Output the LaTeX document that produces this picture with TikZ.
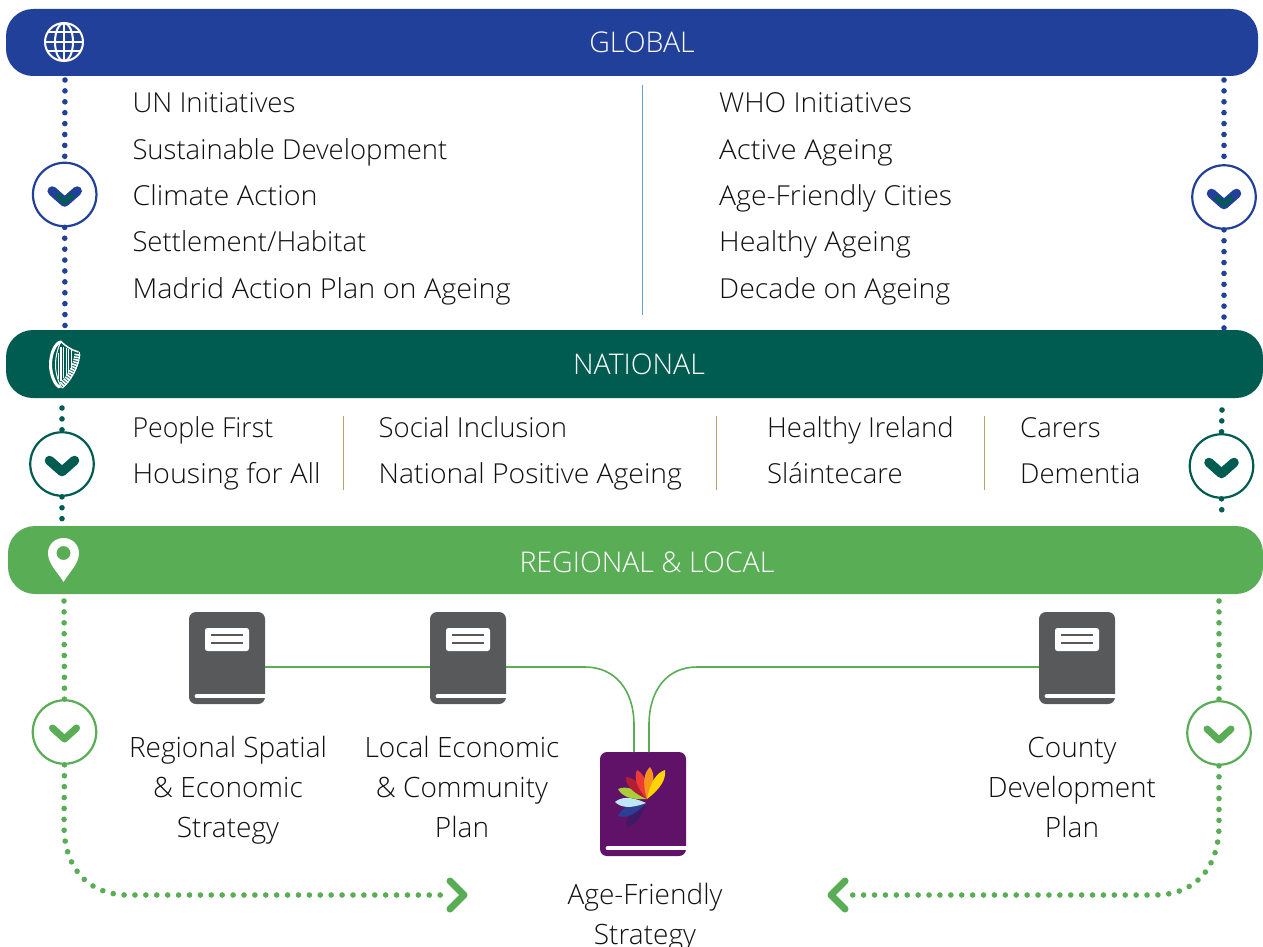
\documentclass[tikz,border=0pt]{standalone}
\usepackage{fontspec}
\setmainfont{Open Sans}[UprightFont=* Light]
\usetikzlibrary{calc}
\definecolor{gblue}{HTML}{21409A}
\definecolor{nteal}{HTML}{005B50}
\definecolor{rgreen}{HTML}{58AD55}
\definecolor{bookgrey}{HTML}{58595B}
\definecolor{bookpurple}{HTML}{5F1267}
\definecolor{sepblue}{HTML}{5BA4D6}
\definecolor{septan}{HTML}{B5A468}
\definecolor{txt}{HTML}{111111}
\tikzset{
  x=1pt,y=-1pt,
  bar/.style={fill=#1,rounded corners=27pt,inner sep=0pt},
  barlabel/.style={text=white,inner sep=0pt,font=\fontsize{28.5}{32}\selectfont},
  item/.style={anchor=base west,inner sep=0pt,text=txt,font=\fontsize{27.5}{32}\selectfont},
  caption/.style={align=center,inner sep=0pt,text=txt,font=\fontsize{28}{40}\selectfont},
  dots/.style={draw=#1,line width=5.6pt,line cap=round,dash pattern=on 0pt off 10.9pt},
  ring/.style={circle,draw=#1,line width=2.2pt,fill=white,minimum size=63.5pt,inner sep=0pt},
  chev/.style={draw=#1,line width=9.5pt,line cap=round,line join=round},
  sep/.style={draw=#1,line width=1pt},
  bookbody/.style={fill=bookgrey,rounded corners=7pt,inner sep=0pt,minimum width=76pt,minimum height=92pt},
  link/.style={draw=rgreen,line width=1.6pt},
}
\newcommand{\chevron}[2]{\draw[chev=#2] ([shift={(-12.5,-3.5)}]#1.center) -- ([shift={(0,7.5)}]#1.center) -- ([shift={(12.5,-3.5)}]#1.center);}
\newcommand{\bookslot}[1]{\draw[white,line width=4.4pt,line cap=round] ([shift={(8,-8)}]#1.south west) -- ([shift={(3,-8)}]#1.south east);}
\newcommand{\petal}[3]{\fill[#3] (#1) .. controls ($(#1)!0.5!(#2)!6.5pt!90:(#2)$) and ($(#1)!0.8!(#2)!5.5pt!90:(#2)$) .. (#2) .. controls ($(#1)!0.8!(#2)!5.5pt!-90:(#2)$) and ($(#1)!0.5!(#2)!6.5pt!-90:(#2)$) .. (#1) -- cycle;}
\newcommand{\wider}[2]{\scalebox{#1}[1]{#2}}
\begin{document}
\begin{tikzpicture}
\useasboundingbox (0,0) rectangle (1263,947);
% dotted stubs that run up to the bars lie under them
\coordinate (n1) at (65,328); \coordinate (n2) at (1224,328);
% bars
\node[bar=gblue,minimum width=1252pt,minimum height=67pt] (global) at (632,42.5) {};
\node[barlabel] (globallabel) at (642,42) {GLOBAL};
\node[bar=nteal,minimum width=1257pt,minimum height=68pt] (national) at (634.5,364) {};
\node[barlabel] (nationallabel) at (639,364) {NATIONAL};
\node[bar=rgreen,minimum width=1255pt,minimum height=68pt] (regional) at (635.5,560) {};
\node[barlabel] (regionallabel) at (647,562) {REGIONAL \& LOCAL};
% global icon
\begin{scope}[shift={(64,42)},draw=white,line width=2pt]
\draw (0,0) circle (19);
\draw (0,0) ellipse (9 and 19);
\draw (0,-19) -- (0,19);
\draw (-19,0) -- (19,0);
\draw (-16,-9.5) -- (16,-9.5);
\draw (-16,9.5) -- (16,9.5);
\end{scope}
% harp icon
\begin{scope}[shift={(64.5,365)},draw=white]
\draw[line width=3pt,line cap=round] (-5,22) .. controls (-10,20) and (-14,8) .. (-14,0) .. controls (-14,-12) and (-9,-22) .. (-4,-23);
\draw[line width=1pt] (-2,23) .. controls (-6,19) and (-9,8) .. (-9,0) .. controls (-9,-10) and (-6,-18) .. (-4,-23);
\draw[line width=1.5pt] (-4,-24) .. controls (2,-18) and (7,-15) .. (14,-13);
\draw[line width=6pt,dash pattern=on 1.6pt off 1pt] (13,-11) .. controls (12,0) and (5,14) .. (-3,20);
\draw[line width=1pt] (15,-13) .. controls (16,-3) and (8,14) .. (-2,23);
\draw[line width=1.2pt] (-6,-12) -- (-6,14);
\draw[line width=1.2pt] (-3.5,-18) -- (-3.5,16);
\draw[line width=1.2pt] (-1,-18) -- (-1,13);
\draw[line width=1pt] (1.5,-17) -- (1.5,11);
\draw[line width=.8pt] (4,-16) -- (4,8);
\draw[line width=.8pt] (6.5,-15) -- (6.5,4);
\end{scope}
% pin icon
\fill[white,even odd rule] (63.5,582) .. controls (57,571) and (48,564) .. (48,553) .. controls (48,544.5) and (55,538) .. (63.5,538) .. controls (72,538) and (79,544.5) .. (79,553) .. controls (79,564) and (70,571) .. (63.5,582) -- cycle (63.5,553) circle (7);
% rings
\node[ring=gblue] (cgl) at (64.7,194.5) {};
\node[ring=gblue] (cgr) at (1224,197) {};
\node[ring=nteal] (cnl) at (62,464) {};
\node[ring=nteal] (cnr) at (1221.5,466) {};
\node[ring=rgreen] (crl) at (64.5,732) {};
\node[ring=rgreen] (crr) at (1219,733) {};
\chevron{cgl}{gblue}
\draw[nteal,line width=4.5pt,line join=round] ([shift={(-8,0)}]cgl.center) -- ([shift={(0,7.5)}]cgl.center) -- ([shift={(8,0)}]cgl.center);
\chevron{cgr}{gblue}
\draw[nteal,line width=4.5pt,line join=round] ([shift={(-8,0)}]cgr.center) -- ([shift={(0,7.5)}]cgr.center) -- ([shift={(8,0)}]cgr.center);
\chevron{cnl}{nteal}
\chevron{cnr}{nteal}
\draw[chev=rgreen,line width=7pt] ([shift={(-12,-4)}]crl.center) -- ([shift={(0,7)}]crl.center) -- ([shift={(12,-4)}]crl.center);
\draw[chev=rgreen,line width=7pt] ([shift={(-12,-4)}]crr.center) -- ([shift={(0,7)}]crr.center) -- ([shift={(12,-4)}]crr.center);
% dotted connectors
\coordinate (g1) at (65,80); \coordinate (g2) at (1224,80);
\coordinate (n3) at (62,408); \coordinate (n4) at (1222,410);
\coordinate (r1) at (62,527); \coordinate (r2) at (1222,520);
\coordinate (r3) at (64,601); \coordinate (r4) at (1219,601);
\draw[dots=gblue] (g1) -- (cgl.north);
\draw[dots=gblue] (cgl.south) -- (n1);
\draw[dots=gblue] (g2) -- (cgr.north);
\draw[dots=gblue] (cgr.south) -- (n2);
\draw[dots=nteal] (n3) -- (cnl.north);
\draw[dots=nteal] (cnl.south) -- (r1);
\draw[dots=nteal] (n4) -- (cnr.north);
\draw[dots=nteal] (cnr.south) -- (r2);
\draw[dots=rgreen] (r3) -- (crl.north);
\draw[dots=rgreen] (r4) -- (crr.north);
\coordinate (al) at (442,895);
\coordinate (ar) at (850,895);
\draw[dots=rgreen] (crl.south) -- (64,825) .. controls (64,870) and (90,895) .. (128,895) -- (al);
\draw[dots=rgreen] (crr.south) -- (1219,825) .. controls (1219,870) and (1193,895) .. (1155,895) -- (ar);
\draw[chev=rgreen,line width=7pt] ([shift={(8,-14)}]al) -- ([shift={(22,0)}]al) -- ([shift={(8,14)}]al);
\draw[chev=rgreen,line width=7pt] ([shift={(-5,-14)}]ar) -- ([shift={(-19,0)}]ar) -- ([shift={(-5,14)}]ar);
% separators
\coordinate (s1a) at (642,85); \coordinate (s1b) at (642,315);
\draw[sep=sepblue] (s1a) -- (s1b);
\coordinate (s2a) at (343.5,416); \coordinate (s2b) at (343.5,490);
\coordinate (s3a) at (716.5,416); \coordinate (s3b) at (716.5,490);
\coordinate (s4a) at (984.5,416); \coordinate (s4b) at (984.5,490);
\draw[sep=septan] (s2a) -- (s2b);
\draw[sep=septan] (s3a) -- (s3b);
\draw[sep=septan] (s4a) -- (s4b);
% text lists
\node[item] (t1) at (132.3,113) {\wider{1.006}{UN Initiatives}};
\node[item] (t2) at (132.3,159) {Sustainable Development};
\node[item] (t3) at (132.3,205) {\wider{1.045}{Climate Action}};
\node[item] (t4) at (132.3,251) {Settlement/Habitat};
\node[item] (t5) at (132.3,298) {\wider{1.044}{Madrid Action Plan on Ageing}};
\node[item] (t6) at (719,113) {\wider{1.027}{WHO Initiatives}};
\node[item] (t7) at (719,159) {\wider{1.067}{Active Ageing}};
\node[item] (t8) at (719,205) {\wider{1.031}{Age-Friendly Cities}};
\node[item] (t9) at (719,251) {\wider{1.043}{Healthy Ageing}};
\node[item] (t10) at (719,298) {\wider{1.036}{Decade on Ageing}};
\node[item] (u1) at (132.3,437) {\wider{0.972}{People First}};
\node[item] (u2) at (132.3,483) {\wider{1.045}{Housing for All}};
\node[item] (u3) at (378.5,437) {Social Inclusion};
\node[item] (u4) at (378.5,483) {\wider{1.03}{National Positive Ageing}};
\node[item] (u5) at (767,437) {Healthy Ireland};
\node[item] (u6) at (767,483) {Sláintecare};
\node[item] (u7) at (1020,437) {Carers};
\node[item] (u8) at (1020,483) {Dementia};
% books
\node[bookbody] (b1) at (227,658) {};
\node[bookbody] (b2) at (468,658) {};
\node[bookbody] (b3) at (1077,658) {};
\foreach \b in {b1,b2,b3}{
  \bookslot{\b}
  \fill[white,rounded corners=2.5pt] ([shift={(-22,-30)}]\b.center) rectangle ([shift={(22,-7)}]\b.center);
  \draw[bookgrey,line width=2.4pt] ([shift={(-16,-23)}]\b.center) -- ([shift={(16,-23)}]\b.center);
  \draw[bookgrey,line width=2.4pt] ([shift={(-16,-15)}]\b.center) -- ([shift={(16,-15)}]\b.center);
}
\node[fill=bookpurple,rounded corners=7pt,inner sep=0pt,minimum width=86pt,minimum height=104pt] (b4) at (643,804) {};
\bookslot{b4}
% petals
\definecolor{p1c}{HTML}{3E1A66}\definecolor{p2c}{HTML}{2B3F97}\definecolor{p3c}{HTML}{BEE6F7}
\definecolor{p4c}{HTML}{A8CF38}\definecolor{p5c}{HTML}{B21F35}\definecolor{p6c}{HTML}{EE3A37}
\definecolor{p7c}{HTML}{F7941E}\definecolor{p8c}{HTML}{FFD400}
\coordinate (pa) at (647,799); \coordinate (pb) at (646,803);
\coordinate (p1) at (626,827); \coordinate (p2) at (618,816); \coordinate (p3) at (615,802);
\coordinate (p4) at (618,789); \coordinate (p5) at (625.7,777); \coordinate (p6) at (637,770);
\coordinate (p7) at (650,767); \coordinate (p8) at (665,770);
\petal{pb}{p1}{p1c}
\petal{pb}{p2}{p2c}
\petal{pb}{p3}{p3c}
\petal{pa}{p4}{p4c}
\petal{pa}{p5}{p5c}
\petal{pa}{p6}{p6c}
\petal{pa}{p7}{p7c}
\petal{pa}{p8}{p8c}
% links
\draw[link] ([yshift=-9pt]b1.east) -- ([yshift=-9pt]b2.west);
\draw[link] ([yshift=-9pt]b2.east) -- (585,667) .. controls (615,667) and (634,690) .. (634,725) -- (634,752);
\draw[link] ([yshift=-9pt]b3.west) -- (697,667) .. controls (667,667) and (649,690) .. (649,725) -- (649,752);
% captions
\node[caption] (c1) at (228,790) {Regional Spatial\\\& Economic\\Strategy};
\node[caption] (c2) at (462,787) {Local Economic\\\& Community\\Plan};
\node[caption] (c3) at (1072,787) {County\\Development\\Plan};
\node[caption] (c4) at (645,917) {Age-Friendly\\Strategy};
\end{tikzpicture}
\end{document}
